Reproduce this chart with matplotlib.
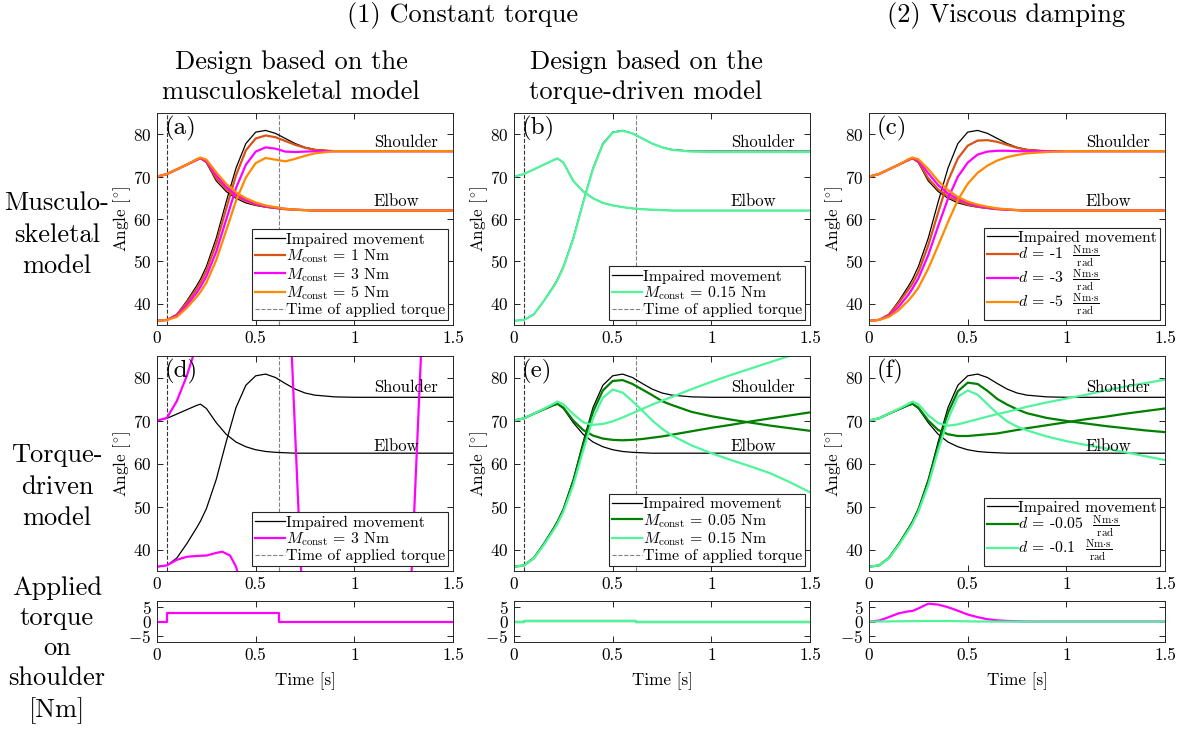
# Angle trajectories with constant torque and viscous damping
import numpy as np
import matplotlib.pyplot as plt
from matplotlib.lines import Line2D

plt.rcParams['font.family'] = ['cmr10']
plt.rcParams['mathtext.fontset'] = 'cm'
plt.rcParams['axes.formatter.use_mathtext'] = True
plt.rcParams['axes.unicode_minus'] = True

# Time grid [s]
t = [0, .05, .1, .15, .2, .22, .25, .3, .35, .4, .45, .5, .55, .6, .65, .7, .75, .8, .9, 1.0, 1.1, 1.2, 1.3, 1.4, 1.5]

# Musculoskeletal model, impaired movement
ms_imp_sh = [36.0, 36.2, 37.5, 40.6, 44.2, 45.8, 48.8, 55.5, 64.0, 72.0, 77.8, 80.5, 80.9, 80.2, 79.0, 77.8, 76.9, 76.4, 76.0, 76.0, 76.0, 76.0, 76.0, 76.0, 76.0]
ms_imp_el = [70.0, 70.6, 71.7, 72.8, 73.9, 74.3, 73.3, 69.0, 66.5, 64.9, 63.8, 63.2, 62.8, 62.5, 62.3, 62.2, 62.1, 62.0, 62.0, 62.0, 62.0, 62.0, 62.0, 62.0, 62.0]

# (a) constant torque designed on musculoskeletal model
a_m1_sh = [36.0, 36.2, 37.4, 40.2, 43.5, 45.0, 47.8, 54.2, 62.4, 70.3, 76.2, 79.0, 79.7, 79.3, 78.4, 77.5, 76.8, 76.3, 76.0, 76.0, 76.0, 76.0, 76.0, 76.0, 76.0]
a_m1_el = [70.0, 70.6, 71.7, 72.8, 73.9, 74.3, 73.5, 69.6, 67.0, 65.3, 64.2, 63.4, 62.9, 62.6, 62.3, 62.2, 62.1, 62.0, 62.0, 62.0, 62.0, 62.0, 62.0, 62.0, 62.0]
a_m3_sh = [36.0, 36.2, 37.2, 39.6, 42.6, 44.0, 46.5, 52.3, 59.8, 67.3, 72.8, 75.9, 76.9, 76.6, 75.9, 75.8, 75.9, 76.0, 76.0, 76.0, 76.0, 76.0, 76.0, 76.0, 76.0]
a_m3_el = [70.0, 70.6, 71.7, 72.8, 74.0, 74.4, 73.7, 70.3, 67.6, 65.7, 64.5, 63.6, 63.0, 62.7, 62.4, 62.2, 62.1, 62.0, 62.0, 62.0, 62.0, 62.0, 62.0, 62.0, 62.0]
a_m5_sh = [36.0, 36.2, 36.9, 39.0, 41.6, 42.8, 45.0, 50.3, 57.2, 64.3, 69.8, 73.2, 74.4, 74.0, 73.6, 74.2, 74.9, 75.5, 76.0, 76.0, 76.0, 76.0, 76.0, 76.0, 76.0]
a_m5_el = [70.0, 70.6, 71.7, 72.8, 74.1, 74.5, 74.0, 71.0, 68.3, 66.3, 64.9, 63.9, 63.2, 62.8, 62.4, 62.2, 62.1, 62.0, 62.0, 62.0, 62.0, 62.0, 62.0, 62.0, 62.0]

# (b) constant torque designed on torque-driven model
b_m015_sh = [36.0, 36.2, 37.5, 40.6, 44.0, 45.6, 48.6, 55.3, 63.8, 71.8, 77.6, 80.4, 80.8, 80.2, 79.0, 77.8, 76.9, 76.3, 75.9, 75.8, 75.8, 75.8, 75.8, 75.8, 75.8]
b_m015_el = [70.0, 70.6, 71.7, 72.8, 73.9, 74.3, 73.3, 69.0, 66.5, 64.9, 63.8, 63.2, 62.8, 62.5, 62.3, 62.2, 62.1, 62.0, 62.0, 62.0, 62.0, 62.0, 62.0, 62.0, 62.0]

# (c) viscous damping on musculoskeletal model
c_d1_sh = [36.0, 36.2, 37.4, 40.2, 43.4, 44.8, 47.5, 53.8, 61.5, 69.0, 74.3, 77.3, 78.5, 78.6, 78.2, 77.5, 76.8, 76.3, 76.0, 76.0, 76.0, 76.0, 76.0, 76.0, 76.0]
c_d1_el = [70.0, 70.6, 71.7, 72.8, 73.9, 74.3, 73.5, 69.6, 67.0, 65.3, 64.2, 63.4, 62.9, 62.6, 62.3, 62.2, 62.1, 62.0, 62.0, 62.0, 62.0, 62.0, 62.0, 62.0, 62.0]
c_d3_sh = [36.0, 36.2, 37.1, 39.3, 42.2, 43.6, 46.0, 51.5, 58.3, 64.8, 70.0, 73.3, 75.2, 75.9, 76.1, 76.1, 76.0, 76.0, 76.0, 76.0, 76.0, 76.0, 76.0, 76.0, 76.0]
c_d3_el = [70.0, 70.6, 71.7, 72.8, 74.0, 74.4, 73.8, 70.8, 68.0, 66.0, 64.7, 63.8, 63.1, 62.7, 62.4, 62.2, 62.1, 62.0, 62.0, 62.0, 62.0, 62.0, 62.0, 62.0, 62.0]
c_d5_sh = [36.0, 36.2, 36.9, 38.5, 40.8, 41.9, 43.8, 48.3, 53.7, 59.3, 64.5, 68.3, 70.9, 72.6, 73.8, 74.6, 75.1, 75.5, 75.8, 76.0, 76.0, 76.0, 76.0, 76.0, 76.0]
c_d5_el = [70.0, 70.6, 71.7, 72.8, 74.1, 74.5, 74.1, 71.8, 69.0, 66.8, 65.2, 64.1, 63.4, 62.9, 62.5, 62.3, 62.1, 62.0, 62.0, 62.0, 62.0, 62.0, 62.0, 62.0, 62.0]

# Torque-driven model, impaired movement
td_imp_sh = [36.0, 36.3, 38.0, 41.3, 45.0, 46.6, 49.5, 56.3, 65.0, 73.0, 78.2, 80.4, 80.8, 80.0, 78.6, 77.3, 76.4, 75.9, 75.5, 75.4, 75.4, 75.4, 75.4, 75.4, 75.4]
td_imp_el = [70.0, 70.5, 71.5, 72.5, 73.5, 73.8, 72.8, 69.5, 66.8, 65.0, 63.9, 63.2, 62.8, 62.6, 62.5, 62.4, 62.4, 62.4, 62.4, 62.4, 62.4, 62.4, 62.4, 62.4, 62.4]

# (d) M = 3 Nm on torque-driven model (leaves the plotted range)
d_el_t = [0, .05, .1, .15, .2, .25, .5, .68, .73, .8]
d_m3_el = [70.0, 70.6, 74.5, 80.3, 87.5, 96.0, 140.0, 88.0, 35.0, -40.0]
d_sh_t = [0, .05, .1, .15, .2, .25, .3, .33, .37, .4, .45, .5, 1.2, 1.29, 1.34, 1.4]
d_m3_sh = [36.0, 36.3, 37.6, 38.3, 38.5, 38.6, 39.2, 39.5, 38.6, 36.0, 28.0, 20.0, -60.0, 35.0, 88.0, 150.0]

# (e) constant torque on torque-driven model
e_m005_sh = [36.0, 36.3, 38.0, 41.2, 44.8, 46.3, 49.2, 55.8, 64.2, 72.0, 77.0, 79.2, 79.4, 78.5, 77.2, 75.9, 74.5, 73.6, 72.0, 71.0, 70.2, 69.5, 68.8, 68.2, 67.6]
e_m005_el = [70.0, 70.5, 71.6, 72.6, 73.6, 73.9, 73.0, 70.0, 67.8, 66.5, 65.8, 65.5, 65.4, 65.5, 65.7, 66.0, 66.3, 66.7, 67.5, 68.3, 69.0, 69.8, 70.5, 71.2, 71.9]
e_m015_sh = [36.0, 36.3, 37.9, 41.0, 44.5, 46.0, 48.8, 55.0, 63.0, 70.5, 75.3, 77.2, 76.5, 74.5, 72.3, 70.0, 68.1, 66.5, 64.2, 62.4, 60.8, 59.3, 57.7, 55.6, 53.3]
e_m015_el = [70.0, 70.5, 71.6, 72.7, 73.9, 74.4, 73.8, 71.5, 69.6, 69.0, 69.2, 69.8, 70.7, 71.7, 72.7, 73.7, 74.6, 75.5, 77.3, 79.0, 80.6, 82.1, 83.6, 85.1, 86.6]

# (f) viscous damping on torque-driven model
f_d005_sh = [36.0, 36.3, 38.0, 41.2, 44.8, 46.3, 49.2, 55.8, 64.0, 71.8, 76.8, 78.8, 78.5, 76.9, 75.0, 73.7, 72.6, 71.7, 70.6, 69.9, 69.3, 68.7, 68.2, 67.7, 67.3]
f_d005_el = [70.0, 70.5, 71.6, 72.6, 73.6, 73.9, 73.0, 70.0, 67.8, 66.8, 66.4, 66.4, 66.6, 66.8, 67.0, 67.4, 67.8, 68.2, 68.9, 69.6, 70.3, 70.9, 71.6, 72.2, 72.8]
f_d01_sh = [36.0, 36.3, 37.9, 41.0, 44.5, 46.0, 48.8, 55.0, 63.0, 70.3, 75.5, 77.0, 76.0, 73.8, 71.6, 69.8, 68.6, 67.7, 66.3, 65.2, 64.3, 63.5, 62.6, 61.7, 60.8]
f_d01_el = [70.0, 70.5, 71.6, 72.7, 73.9, 74.4, 73.8, 71.2, 69.4, 68.8, 69.1, 69.7, 70.3, 70.9, 71.5, 72.0, 72.6, 73.2, 74.2, 75.1, 76.0, 77.0, 77.9, 78.7, 79.5]

# Applied torque on shoulder [Nm]
step_t = [0, 0.05, 0.05, 0.62, 0.62, 1.5]
tq_m3 = [0, 0, 3, 3, 0, 0]
tq_m005 = [0, 0, 0.05, 0.05, 0, 0]
tq_m015 = [0, 0, 0.15, 0.15, 0, 0]
tq_d3 = [0, 0.3, 1.5, 2.8, 3.5, 3.6, 4.5, 6.1, 5.8, 4.9, 3.7, 2.4, 1.5, 0.8, 0.4, 0.2, 0.1, 0.0, 0.0, 0.0, 0.0, 0.0, 0.0, 0.0, 0.0]
tq_d01 = [0, 0.01, 0.05, 0.09, 0.12, 0.13, 0.15, 0.19, 0.2, 0.17, 0.12, 0.07, 0.03, 0.0, -0.02, -0.03, -0.04, -0.04, -0.05, -0.05, -0.05, -0.05, -0.05, -0.05, -0.05]

t_on = 0.05
t_off = 0.62

c_dark = '#D95319'
c_mag = '#FF00FF'
c_org = '#FF8A00'
c_dgreen = '#008000'
c_lgreen = '#50F59B'
lw = 1.6
lw_imp = 0.9
fs = 12.3

fig = plt.figure(figsize=(11.79, 7.33), dpi=100)
lefts = [0.1332, 0.4360, 0.7371]
width = 0.2511


def style(ax, ylim, yticks):
    ax.set_xlim(0, 1.5)
    ax.set_ylim(*ylim)
    ax.set_xticks([0, 0.5, 1, 1.5])
    ax.set_xticklabels(['0', '0.5', '1', '1.5'])
    ax.set_yticks(yticks)
    ax.tick_params(direction='in', top=True, right=True, length=4, width=0.6,
                   labelsize=fs, pad=4)
    for s in ax.spines.values():
        s.set_linewidth(0.7)
        s.set_color('#262626')


def angle_axes(col, row, letter):
    bottom, height = [(0.5566, 0.2892), (0.2210, 0.2933)][row]
    ax = fig.add_axes([lefts[col], bottom, width, height])
    style(ax, (35, 85), [40, 50, 60, 70, 80])
    ax.set_ylabel(r'Angle [$^{\circ}$]', fontsize=fs, labelpad=0)
    ax.text(0.025, 0.985, letter, transform=ax.transAxes, fontsize=18, va='top', ha='left')
    ax.text(1.26, 78.1 if row == 0 else 77.7, 'Shoulder', fontsize=12, ha='center', va='center')
    ax.text(1.21, 64.2 if row == 0 else 64.0, 'Elbow', fontsize=12, ha='center', va='center')
    return ax


def dashes(ax):
    ax.axvline(t_on, color='#333333', ls='--', lw=0.8)
    ax.axvline(t_off, color='#808080', ls='--', lw=0.8)


def legend(ax, handles, labels, spacing=0.05):
    ax.legend(handles, labels, loc='lower right', fontsize=11.4, frameon=True, fancybox=False,
              edgecolor='#262626', framealpha=1, handlelength=1.9, handletextpad=0.05,
              labelspacing=spacing, borderpad=0.2, borderaxespad=0.3).get_frame().set_linewidth(0.8)


h_imp = Line2D([], [], color='k', lw=lw_imp)
h_dash = Line2D([], [], color='#808080', ls='--', lw=0.8)

# (a)
ax = angle_axes(0, 0, '(a)')
dashes(ax)
ax.plot(t, ms_imp_sh, 'k', lw=lw_imp)
ax.plot(t, ms_imp_el, 'k', lw=lw_imp)
for sh, el, c in [(a_m1_sh, a_m1_el, c_dark), (a_m3_sh, a_m3_el, c_mag), (a_m5_sh, a_m5_el, c_org)]:
    ax.plot(t, sh, color=c, lw=lw)
    ax.plot(t, el, color=c, lw=lw)
legend(ax, [h_imp, Line2D([], [], color=c_dark, lw=lw), Line2D([], [], color=c_mag, lw=lw),
            Line2D([], [], color=c_org, lw=lw), h_dash],
       ['Impaired movement', r'$M_{\mathrm{const}}$ = 1 Nm', r'$M_{\mathrm{const}}$ = 3 Nm',
        r'$M_{\mathrm{const}}$ = 5 Nm', 'Time of applied torque'])

# (b)
ax = angle_axes(1, 0, '(b)')
dashes(ax)
ax.plot(t, ms_imp_sh, 'k', lw=lw_imp)
ax.plot(t, ms_imp_el, 'k', lw=lw_imp)
ax.plot(t, b_m015_sh, color=c_lgreen, lw=lw)
ax.plot(t, b_m015_el, color=c_lgreen, lw=lw)
legend(ax, [h_imp, Line2D([], [], color=c_lgreen, lw=lw), h_dash],
       ['Impaired movement', r'$M_{\mathrm{const}}$ = 0.15 Nm', 'Time of applied torque'])

# (c)
ax = angle_axes(2, 0, '(c)')
ax.plot(t, ms_imp_sh, 'k', lw=lw_imp)
ax.plot(t, ms_imp_el, 'k', lw=lw_imp)
for sh, el, c in [(c_d1_sh, c_d1_el, c_dark), (c_d3_sh, c_d3_el, c_mag), (c_d5_sh, c_d5_el, c_org)]:
    ax.plot(t, sh, color=c, lw=lw)
    ax.plot(t, el, color=c, lw=lw)
unit = r'$\frac{\mathrm{Nm{\cdot}s}}{\mathrm{rad}}$'
legend(ax, [h_imp, Line2D([], [], color=c_dark, lw=lw), Line2D([], [], color=c_mag, lw=lw),
            Line2D([], [], color=c_org, lw=lw)],
       ['Impaired movement', r'$d$ = -1  ' + unit, r'$d$ = -3  ' + unit, r'$d$ = -5  ' + unit], spacing=-0.1)

# (d)
ax = angle_axes(0, 1, '(d)')
dashes(ax)
ax.plot(t, td_imp_sh, 'k', lw=lw_imp)
ax.plot(t, td_imp_el, 'k', lw=lw_imp)
ax.plot(d_el_t, d_m3_el, color=c_mag, lw=lw)
ax.plot(d_sh_t, d_m3_sh, color=c_mag, lw=lw)
legend(ax, [h_imp, Line2D([], [], color=c_mag, lw=lw), h_dash],
       ['Impaired movement', r'$M_{\mathrm{const}}$ = 3 Nm', 'Time of applied torque'])

# (e)
ax = angle_axes(1, 1, '(e)')
dashes(ax)
ax.plot(t, td_imp_sh, 'k', lw=lw_imp)
ax.plot(t, td_imp_el, 'k', lw=lw_imp)
ax.plot(t, e_m005_sh, color=c_dgreen, lw=lw)
ax.plot(t, e_m005_el, color=c_dgreen, lw=lw)
ax.plot(t, e_m015_sh, color=c_lgreen, lw=lw)
ax.plot(t, e_m015_el, color=c_lgreen, lw=lw)
legend(ax, [h_imp, Line2D([], [], color=c_dgreen, lw=lw), Line2D([], [], color=c_lgreen, lw=lw), h_dash],
       ['Impaired movement', r'$M_{\mathrm{const}}$ = 0.05 Nm', r'$M_{\mathrm{const}}$ = 0.15 Nm',
        'Time of applied torque'])

# (f)
ax = angle_axes(2, 1, '(f)')
ax.plot(t, td_imp_sh, 'k', lw=lw_imp)
ax.plot(t, td_imp_el, 'k', lw=lw_imp)
ax.plot(t, f_d005_sh, color=c_dgreen, lw=lw)
ax.plot(t, f_d005_el, color=c_dgreen, lw=lw)
ax.plot(t, f_d01_sh, color=c_lgreen, lw=lw)
ax.plot(t, f_d01_el, color=c_lgreen, lw=lw)
legend(ax, [h_imp, Line2D([], [], color=c_dgreen, lw=lw), Line2D([], [], color=c_lgreen, lw=lw)],
       ['Impaired movement', r'$d$ = -0.05  ' + unit, r'$d$ = -0.1  ' + unit], spacing=-0.1)

# Torque panels
for col in range(3):
    ax = fig.add_axes([lefts[col], 0.1241, width, 0.0559])
    style(ax, (-7, 7), [-5, 0, 5])
    ax.set_xlabel('Time [s]', fontsize=fs, labelpad=7)
    if col == 0:
        ax.plot(step_t, tq_m3, color=c_mag, lw=lw)
    elif col == 1:
        ax.plot(step_t, tq_m005, color=c_dgreen, lw=lw)
        ax.plot(step_t, tq_m015, color=c_lgreen, lw=lw)
    else:
        ax.plot(t, tq_d3, color=c_mag, lw=lw)
        ax.plot(t, tq_d01, color=c_lgreen, lw=lw)

# Column and row headings
fig.text(0.3927, 0.9795, '(1) Constant torque', fontsize=19, ha='center', va='center')
fig.text(0.8533, 0.9795, '(2) Viscous damping', fontsize=19, ha='center', va='center')
fig.text(0.2468, 0.895, 'Design based on the\nmusculoskeletal model', fontsize=19, ha='center', va='center',
         linespacing=1.35)
fig.text(0.548, 0.895, 'Design based on the\ntorque-driven model', fontsize=19, ha='center', va='center',
         linespacing=1.35)
fig.text(0.0483, 0.6794, 'Musculo-\nskeletal\nmodel', fontsize=19, ha='center', va='center', linespacing=1.42)
fig.text(0.0483, 0.3356, 'Torque-\ndriven\nmodel', fontsize=19, ha='center', va='center', linespacing=1.42)
fig.text(0.0483, 0.1132, 'Applied\ntorque\non\nshoulder\n[Nm]', fontsize=19, ha='center', va='center',
         linespacing=1.35)

plt.savefig('out.png', dpi=100)
